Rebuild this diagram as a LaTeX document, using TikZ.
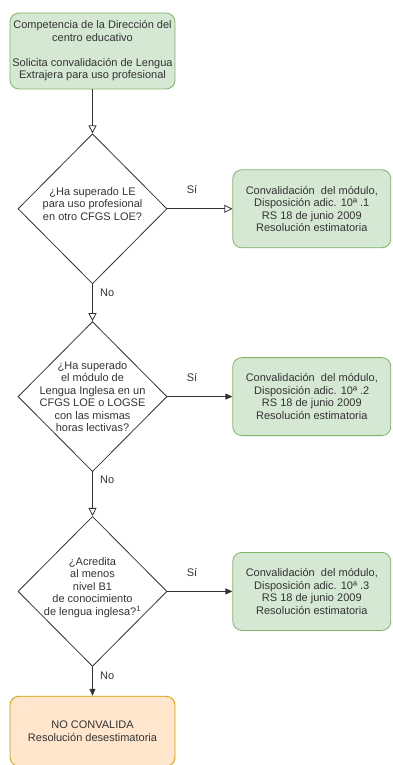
\documentclass[tikz,border=0pt]{standalone}
\usepackage{fontspec}
\setmainfont{Liberation Sans}
\usetikzlibrary{shapes.geometric,positioning,arrows.meta}
\definecolor{boxgreen}{HTML}{D5E8D4}
\definecolor{linegreen}{HTML}{82B366}
\definecolor{boxorange}{HTML}{FFE6CC}
\definecolor{lineorange}{HTML}{D79B00}
\definecolor{textgray}{HTML}{333333}
\begin{document}
\begin{tikzpicture}[x=1pt, y=1pt, auto, line width=0.8pt,
    every node/.style={font=\fontsize{11}{12.5}\selectfont, text=textgray},
    start node/.style={draw=linegreen, fill=boxgreen, rounded corners=9pt, align=center,
                       minimum width=165pt, minimum height=76pt, inner sep=0pt},
    decision/.style={diamond, draw=black!80, minimum width=149pt, minimum height=150pt, inner sep=0pt},
    question/.style={align=center, inner sep=0pt},
    yes node/.style={draw=linegreen, fill=boxgreen, rounded corners=9pt, align=center,
                     minimum width=158pt, minimum height=78pt, inner sep=0pt},
    no node/.style={draw=lineorange, fill=boxorange, rounded corners=9pt, align=center,
                    minimum width=165pt, minimum height=70pt, inner sep=0pt},
    open tip/.style={draw=black!80, -{Triangle[open, length=8pt, width=8pt]}},
    solid tip/.style={draw=black!80, -{Triangle[length=7pt, width=6pt]}}]

  \useasboundingbox (0,0) rectangle (392,-765);

  \node[start node] (1) at (92.5,-51) {Competencia de la Dirección del\\centro educativo\\[12.5pt]Solicita convalidación de Lengua\\Extrajera para uso profesional};

  \node[decision] (2) [below=44pt of 1] {};
  \node[question] (q1) at ([yshift=5pt]2.center) {¿Ha superado LE\\para uso profesional\\en otro CFGS LOE?};
  \node[yes node] (3) [right=65pt of 2] {Convalidación\ \ del módulo,\\Disposición adic. 10ª .1\\RS 18 de junio 2009\\Resolución estimatoria};

  \node[decision] (4) [below=37pt of 2] {};
  \node[question] (q2) at (4) {¿Ha superado\\el módulo de\\Lengua Inglesa en un\\CFGS LOE o LOGSE\\con las mismas\\horas lectivas?};
  \node[yes node] (5) [right=65pt of 4] {Convalidación\ \ del módulo,\\Disposición adic. 10ª .2\\RS 18 de junio 2009\\Resolución estimatoria};

  \node[decision] (6) [below=44pt of 4] {};
  \node[question] (q3) at ([yshift=4pt]6.center) {¿Acredita\\al menos\\nivel B1\\de conocimiento\\de lengua inglesa?\textsuperscript{1}};
  \node[yes node] (7) [right=65pt of 6] {Convalidación\ \ del módulo,\\Disposición adic. 10ª .3\\RS 18 de junio 2009\\Resolución estimatoria};

  \node[no node] (8) [below=29pt of 6] {NO CONVALIDA\\Resolución desestimatoria};

  \path
    (1) edge[open tip] (2)
    (2) edge[open tip] node[above=11pt, pos=0.38] {Sí} (3)
        edge[open tip] node[right=4pt, pos=0.24] {No} (4)
    (4) edge[solid tip] node[above=11pt, pos=0.38] {Sí} (5)
        edge[open tip] node[right=4pt, pos=0.18] {No} (6)
    (6) edge[solid tip] node[above=11pt, pos=0.38] {Sí} (7)
        edge[solid tip] node[right=4pt, pos=0.31] {No} (8)
    ;

\end{tikzpicture}
\end{document}
